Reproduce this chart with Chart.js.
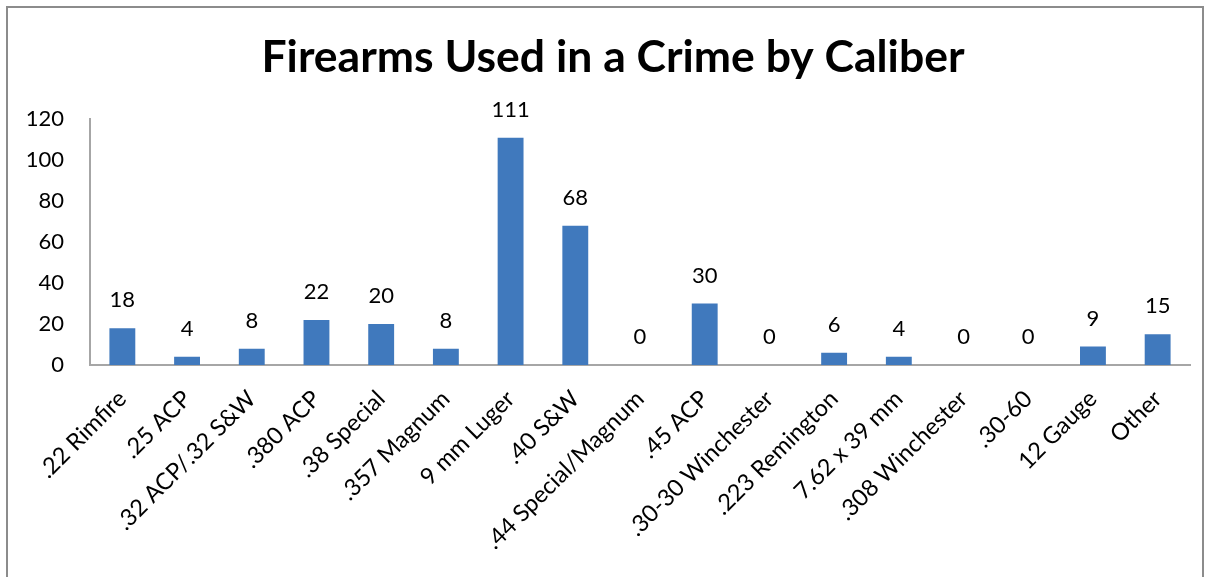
<!DOCTYPE html>
<html>
<head>
<meta charset="utf-8">
<script src="https://cdn.jsdelivr.net/npm/chart.js@4"></script>
<style>
html,body{margin:0;padding:0;background:#fff;}
#wrap{position:relative;width:1210px;height:577px;overflow:hidden;}
#frame{position:absolute;left:6px;top:6px;width:1194px;height:640px;border:2px solid #8c8c8c;pointer-events:none;}
canvas{position:absolute;left:0;top:0;}
</style>
</head>
<body>
<div id="wrap">
<canvas id="c" width="1210" height="577"></canvas>
<div id="frame"></div>
</div>
<script>
const chartTitle = "Firearms Used in a Crime by Caliber";
const categories = [".22 Rimfire", ".25 ACP", ".32 ACP/.32 S&W", ".380 ACP", ".38 Special", ".357 Magnum", "9 mm Luger", ".40 S&W", ".44 Special/Magnum", ".45 ACP", ".30-30 Winchester", ".223 Remington", "7.62 x 39 mm", ".308 Winchester", ".30-60", "12 Gauge", "Other"];
const counts = [18, 4, 8, 22, 20, 8, 111, 68, 0, 30, 0, 6, 4, 0, 0, 9, 15];
const yTicks = [0, 20, 40, 60, 80, 100, 120];

const FONT = "Lato, 'Open Sans', sans-serif";

const valueLabels = {
  id: 'valueLabels',
  afterDatasetsDraw(chart) {
    const ctx = chart.ctx;
    const meta = chart.getDatasetMeta(0);
    ctx.save();
    ctx.font = "22px " + FONT;
    ctx.fillStyle = "#000";
    ctx.textAlign = "center";
    ctx.textBaseline = "alphabetic";
    meta.data.forEach((bar, i) => {
      ctx.fillText(String(counts[i]), bar.x, bar.y - 21);
    });
    ctx.restore();
  }
};

// centre the title over the whole chart box rather than the plot area
const titleCentre = {
  id: 'titleCentre',
  afterLayout(chart) {
    const t = chart.titleBlock;
    if (t) { t.left = 0; t.right = 1226; }
  }
};

new Chart(document.getElementById('c'), {
  type: 'bar',
  data: {
    labels: categories,
    datasets: [{
      data: counts,
      backgroundColor: '#4079BD',
      borderWidth: 0,
      barPercentage: 0.40,
      categoryPercentage: 1.0
    }]
  },
  options: {
    responsive: false,
    animation: false,
    layout: { padding: { left: 0, right: 20, top: 0, bottom: 0 } },
    plugins: {
      legend: { display: false },
      tooltip: { enabled: false },
      title: {
        display: true,
        text: chartTitle,
        color: '#000',
        font: { family: FONT, size: 44.5, weight: 'bold' },
        padding: { top: 31, bottom: 35 }
      }
    },
    scales: {
      x: {
        grid: { display: false, drawTicks: false },
        border: { display: true, color: '#a6a6a6', width: 2 },
        ticks: {
          color: '#000',
          font: { family: FONT, size: 23.5 },
          maxRotation: 45,
          minRotation: 45,
          padding: 20,
          autoSkip: false
        },
        afterFit(scale) { scale.height = 212; }
      },
      y: {
        min: 0,
        max: 120,
        afterBuildTicks(scale) { scale.ticks = yTicks.map(v => ({ value: v })); },
        grid: { display: false, drawTicks: false },
        border: { display: true, color: '#a6a6a6', width: 2 },
        ticks: {
          color: '#000',
          font: { family: FONT, size: 22 },
          padding: 26
        },
        afterFit(scale) { scale.width = 90; }
      }
    }
  },
  plugins: [valueLabels, titleCentre]
});
</script>
</body>
</html>
